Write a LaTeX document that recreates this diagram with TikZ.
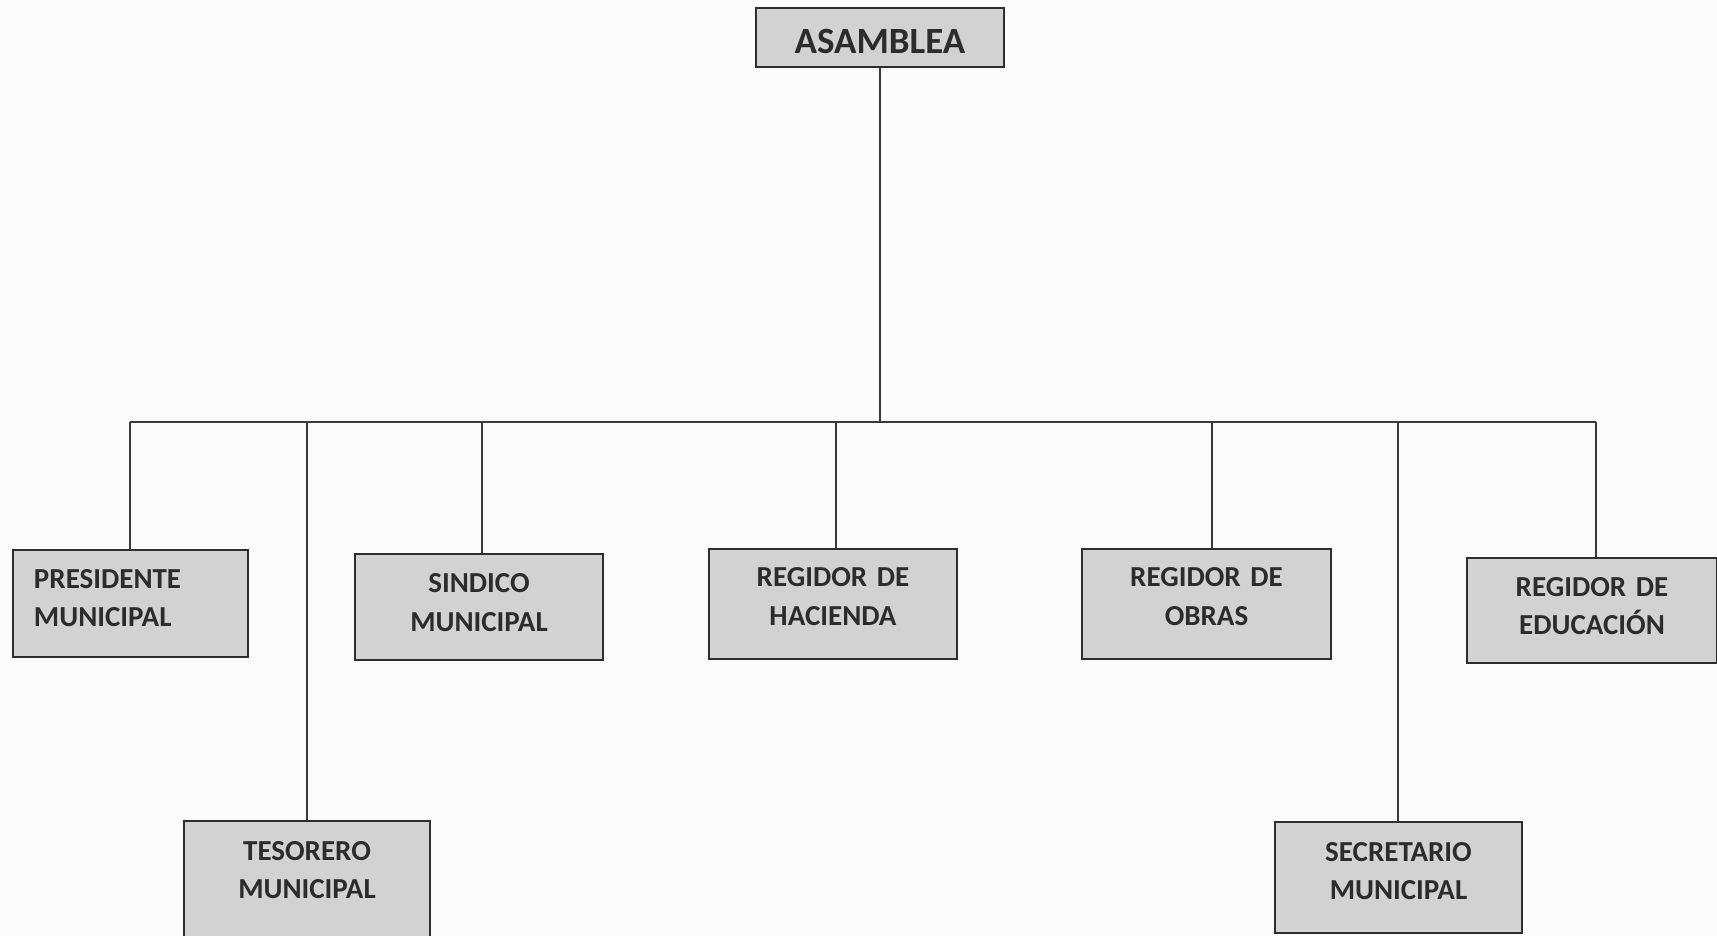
\documentclass[tikz,border=0pt]{standalone}
\usepackage{fontspec}
\setmainfont{Carlito}
\definecolor{linegray}{HTML}{3A3A3A}
\definecolor{boxgray}{HTML}{2E2E2E}
\definecolor{boxfill}{HTML}{D2D2D2}
\definecolor{textgray}{HTML}{2C2C2C}
\definecolor{paper}{HTML}{FBFBFB}
\newcommand{\twolines}[4]{\rule{0pt}{#1pt}#3\\#4\rule[-#2pt]{0pt}{#2pt}}
\begin{document}
\begin{tikzpicture}[x=1pt,y=-1pt,
  conn/.style={draw=linegray, line width=1.8pt},
  orgbox/.style={draw=boxgray, line width=2pt, fill=boxfill, inner xsep=0pt, inner ysep=0pt,
    text=textgray, font=\bfseries\fontsize{29}{38.6}\selectfont, align=center, anchor=north west},
]
\useasboundingbox (0,0) rectangle (1717,936);
\clip (0,0) rectangle (1717,936);
\fill[paper] (0,0) rectangle (1717,936);

% top
\node[orgbox, text width=248pt, font=\bfseries\fontsize{37}{42}\selectfont] (asm) at (755,7.3)
  {\rule{0pt}{45pt}ASAMBLEA\rule[-13.4pt]{0pt}{13.4pt}};

% level boxes
\node[orgbox, text width=193pt, inner xsep=21pt, align=left] (pres) at (12,549)
  {\twolines{38.3}{30}{PRESIDENTE}{MUNICIPAL}};
\node[orgbox, text width=248pt] (sind) at (354,553)
  {\twolines{38.7}{29}{SINDICO}{MUNICIPAL}};
\node[orgbox, text width=248pt] (hac) at (708,548)
  {\twolines{37.7}{33.7}{REGIDOR DE}{HACIENDA}};
\node[orgbox, text width=249pt] (obr) at (1081,548)
  {\twolines{37.7}{33.7}{REGIDOR DE}{OBRAS}};
\node[orgbox, text width=250pt] (edu) at (1466,557)
  {\twolines{38}{28.4}{REGIDOR DE}{EDUCACIÓN}};
\node[orgbox, text width=246pt] (tes) at (183,820)
  {\twolines{39}{47.4}{TESORERO}{MUNICIPAL}};
\node[orgbox, text width=247pt] (sec) at (1274,821.3)
  {\twolines{38.7}{33.1}{SECRETARIO}{MUNICIPAL}};

% bus
\coordinate (busL) at (130,422);
\coordinate (busR) at (1596,422);
\coordinate (dpres) at (130,422);
\coordinate (dtes) at (307,422);
\coordinate (dsind) at (482,422);
\coordinate (dhac) at (836,422);
\coordinate (dobr) at (1212,422);
\coordinate (dsec) at (1398,422);
\coordinate (dedu) at (1596,422);

\draw[conn] (asm.south) -- (asm.south |- busL);
\draw[conn] (busL) -- (busR);
\draw[conn] (dpres) -- (dpres |- pres.north);
\draw[conn] (dtes) -- (dtes |- tes.north);
\draw[conn] (dsind) -- (dsind |- sind.north);
\draw[conn] (dhac) -- (dhac |- hac.north);
\draw[conn] (dobr) -- (dobr |- obr.north);
\draw[conn] (dsec) -- (dsec |- sec.north);
\draw[conn] (dedu) -- (dedu |- edu.north);
\end{tikzpicture}
\end{document}
